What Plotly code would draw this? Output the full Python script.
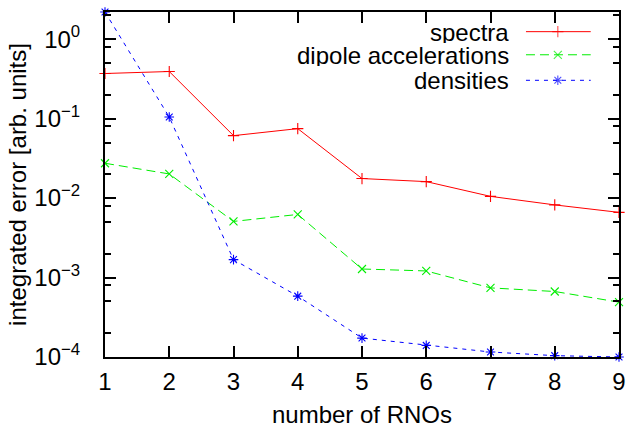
import plotly.graph_objects as go

# ---- data ----
rnos = [1, 2, 3, 4, 5, 6, 7, 8, 9]
spectra = [0.369, 0.391, 0.061, 0.0747, 0.0176, 0.0161, 0.0105, 0.0082, 0.0066]
dipole = [0.0274, 0.0201, 0.00508, 0.00622, 0.00128, 0.00121, 0.000741, 0.000667, 0.00049]
densities = [2.19, 0.1045, 0.00168, 0.000583, 0.000173, 0.00014, 0.0001156, 0.000104, 0.0001]

series_names = ["spectra", "dipole accelerations", "densities"]
series_values = [spectra, dipole, densities]
colors = ["#ff0000", "#00ee00", "#0000ff"]
dashes = ["solid", "9px,5px", "4px,5px"]
symbols = ["cross-thin", "x-thin", "asterisk"]

ytick_vals = [1e-4, 1e-3, 1e-2, 1e-1, 1e0]
ytick_text = ["10<sup>\u22124</sup>", "10<sup>\u22123</sup>", "10<sup>\u22122</sup>",
              "10<sup>\u22121</sup>", "10<sup>0</sup>"]
yminor_vals = [m * 10.0 ** e for e in range(-4, 1) for m in (2, 5, 8)]

FONT = "Liberation Sans"
FS = 24
W, H = 633, 431
ML, MR, MT, MB = 105, 7, 12, 72

fig = go.Figure()

for name, vals, c, d, s in zip(series_names, series_values, colors, dashes, symbols):
    fig.add_trace(go.Scatter(
        x=rnos, y=vals, name=name, mode="lines+markers",
        line=dict(color=c, width=1.0, dash=d),
        marker=dict(symbol=s, size=8, color=c, line=dict(color=c, width=1.1)),
        cliponaxis=False, showlegend=False,
    ))

# ---- manual gnuplot-style legend (text on left, sample on right) ----
leg_text_x = 0.789
leg_x0, leg_xm, leg_x1 = 0.819, 0.881, 0.945
leg_rows = [0.943, 0.876, 0.802]
for name, c, d, s, ly in zip(series_names, colors, dashes, symbols, leg_rows):
    fig.add_trace(go.Scatter(
        x=[leg_x0, leg_xm, leg_x1], y=[ly, ly, ly], mode="lines+markers",
        xaxis="x2", yaxis="y2",
        line=dict(color=c, width=1.0, dash=d),
        marker=dict(symbol=s, size=[0, 8, 0], color=c, line=dict(color=c, width=1.1)),
        showlegend=False, hoverinfo="skip", cliponaxis=False,
    ))
    fig.add_annotation(x=leg_text_x, y=ly, xref="paper", yref="paper", text=name,
                       showarrow=False, xanchor="right", yanchor="middle",
                       height=22, valign="middle",
                       font=dict(family=FONT, size=FS, color="black"))

tick_common = dict(ticks="inside", ticklen=11, tickwidth=1.5, tickcolor="black",
                   showgrid=False, zeroline=False)

fig.update_layout(
    width=W, height=H,
    margin=dict(l=ML, r=MR, t=MT, b=MB),
    paper_bgcolor="white", plot_bgcolor="white",
    font=dict(family=FONT, size=FS, color="black"),
    showlegend=False,
    hovermode=False,
    xaxis=dict(
        range=[1, 9], dtick=1, tick0=1,
        showline=True, linecolor="black", linewidth=2, mirror="ticks",
        ticklabelstandoff=2,
        title=dict(text="number of RNOs", standoff=12, font=dict(size=FS)),
        tickfont=dict(size=FS),
        **tick_common,
    ),
    yaxis=dict(
        type="log", range=[-4, 0.341],
        tickvals=ytick_vals, ticktext=ytick_text,
        minor=dict(tickvals=yminor_vals, ticks="inside", ticklen=6, tickwidth=1.5, tickcolor="black"),
        showline=True, linecolor="black", linewidth=2, mirror="ticks",
        ticklabelstandoff=18,
        title=dict(text="integrated error [arb. units]", standoff=1, font=dict(size=FS)),
        tickfont=dict(size=FS),
        **tick_common,
    ),
    yaxis3=dict(
        type="log", range=[-4, 0.341], overlaying="y", side="right",
        tickvals=ytick_vals, showticklabels=False,
        minor=dict(tickvals=yminor_vals, ticks="inside", ticklen=6, tickwidth=1.5, tickcolor="black"),
        showline=False, fixedrange=True,
        **tick_common,
    ),
    xaxis2=dict(range=[0, 1], domain=[0, 1], overlaying="x", visible=False, fixedrange=True),
    yaxis2=dict(range=[0, 1], domain=[0, 1], overlaying="y", visible=False, fixedrange=True),
)

# dummy invisible trace to activate the right-side mirrored axis
fig.add_trace(go.Scatter(x=[rnos[0]], y=[densities[-1]], yaxis="y3", mode="markers",
                         marker=dict(size=0, opacity=0), showlegend=False, hoverinfo="skip"))

fig.write_html("out.html", config={"displayModeBar": False},
               post_script="document.body.style.margin='0';document.body.style.overflow='hidden';")
